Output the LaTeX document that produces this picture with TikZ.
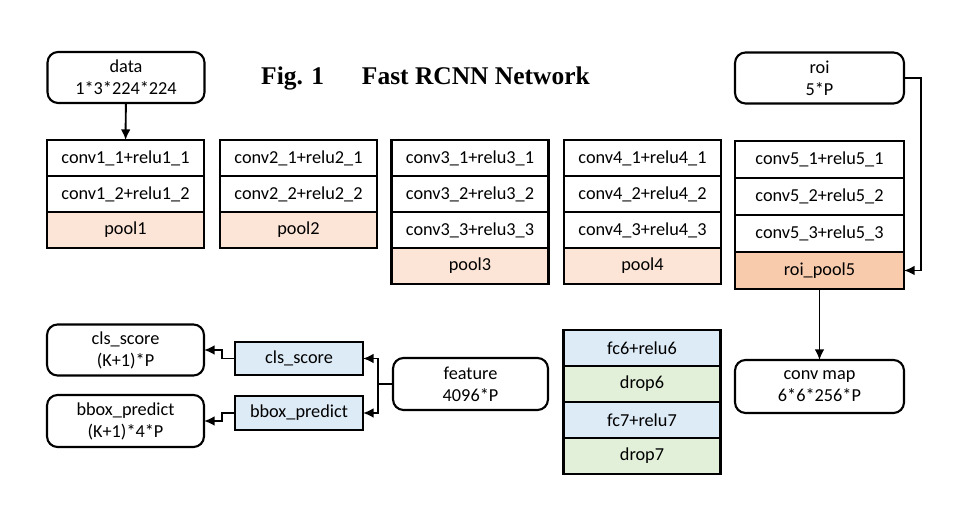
\documentclass[tikz,border=0pt]{standalone}
\usepackage{fontspec}
\setmainfont{Carlito}
\newfontfamily\titlefont{Liberation Serif}
\usepackage{xcolor}
\usetikzlibrary{positioning,arrows.meta}

\definecolor{poolc}{HTML}{FCE4D6}
\definecolor{roipoolc}{HTML}{F8CBAD}
\definecolor{fcc}{HTML}{DDEBF7}
\definecolor{dropc}{HTML}{E2F0D9}

\begin{document}
\begin{tikzpicture}[x=0.02cm,y=-0.02cm, arrow/.style={line width=1.1pt,-{Latex[length=6pt,width=5.5pt]}}, node distance=0pt]
		\tikzset{layer/.style={draw=black,line width=1.2pt,rectangle,inner sep=0pt,outer sep=0pt,minimum width=3.14cm,minimum height=0.72cm,font=\fontsize{10.4}{12}\selectfont}}
		\tikzset{io/.style={draw=black,line width=1.2pt,rounded corners=6pt,align=center,inner sep=0pt,outer sep=0pt,minimum width=3.14cm,minimum height=1.02cm,font=\fontsize{10.4}{12.5}\selectfont}}

		\useasboundingbox (0,0) rectangle (975,506);

		% Title
		\node[font=\titlefont\bfseries\fontsize{14.5}{17}\selectfont] (title) at (425.5,78) {Fig. 1\hspace{21.5pt}Fast RCNN Network};

		% Inputs
		\node[io] (data) at (126,77.5) {data\\1*3*224*224};
		\node[io, minimum width=3.38cm] (roi) at (819.5,78) {roi\\5*P};

		% conv1
		\node[layer] (c11) at (125.5,158) {conv1\_1+relu1\_1};
		\node[layer, below=of c11] (c12) {conv1\_2+relu1\_2};
		\node[layer, below=of c12, fill=poolc] (p1) {pool1};

		% conv2
		\node[layer] (c21) at (298.5,158) {conv2\_1+relu2\_1};
		\node[layer, below=of c21] (c22) {conv2\_2+relu2\_2};
		\node[layer, below=of c22, fill=poolc] (p2) {pool2};

		% conv3
		\node[layer] (c31) at (470,158) {conv3\_1+relu3\_1};
		\node[layer, below=of c31] (c32) {conv3\_2+relu3\_2};
		\node[layer, below=of c32] (c33) {conv3\_3+relu3\_3};
		\node[layer, below=of c33, fill=poolc] (p3) {pool3};

		% conv4
		\node[layer] (c41) at (642.5,158) {conv4\_1+relu4\_1};
		\node[layer, below=of c41] (c42) {conv4\_2+relu4\_2};
		\node[layer, below=of c42] (c43) {conv4\_3+relu4\_3};
		\node[layer, below=of c43, fill=poolc] (p4) {pool4};

		% conv5
		\node[layer, minimum width=3.38cm, minimum height=0.74cm] (c51) at (819.5,159.5) {conv5\_1+relu5\_1};
		\node[layer, minimum width=3.38cm, minimum height=0.74cm, below=of c51] (c52) {conv5\_2+relu5\_2};
		\node[layer, minimum width=3.38cm, minimum height=0.74cm, below=of c52] (c53) {conv5\_3+relu5\_3};
		\node[layer, minimum width=3.38cm, minimum height=0.74cm, below=of c53, fill=roipoolc] (p5) {roi\_pool5};

		% conv map
		\node[io, minimum width=3.38cm, minimum height=1.06cm] (convmap) at (819.5,386.5) {conv map\\6*6*256*P};

		% fc
		\node[layer, fill=fcc] (fc6) at (642,348) {fc6+relu6};
		\node[layer, below=of fc6, fill=dropc] (drop6) {drop6};
		\node[layer, below=of drop6, fill=fcc] (fc7) {fc7+relu7};
		\node[layer, below=of fc7, fill=dropc] (drop7) {drop7};

		% feature
		\node[io, minimum width=3.1cm, minimum height=1.04cm] (feature) at (470.5,384) {feature\\4096*P};

		% heads
		\node[layer, fill=fcc, minimum width=2.56cm, minimum height=0.66cm] (clsb) at (299,358.5) {cls\_score};
		\node[layer, fill=fcc, minimum width=2.56cm, minimum height=0.68cm] (bboxb) at (299,413) {bbox\_predict};

		% outputs
		\node[io] (clsout) at (125.5,350) {cls\_score\\(K+1)*P};
		\node[io, minimum height=1.04cm] (bboxout) at (125.5,421) {bbox\_predict\\(K+1)*4*P};

		% Arrows
		\draw [arrow] (data) -- (c11);
		\draw [arrow] (roi.east) -- ++(17,0) |- (p5.east);
		\draw [arrow] (p5) -- (convmap);
		\draw [arrow] (feature.west) -- ++(-15,0) |- (clsb.east);
		\draw [arrow] (feature.west) -- ++(-15,0) |- (bboxb.east);
		\draw [arrow] (clsb.west) -- ++(-13,0) |- (clsout.east);
		\draw [arrow] (bboxb.west) -- ++(-13,0) |- (bboxout.east);

	\end{tikzpicture}
\end{document}
